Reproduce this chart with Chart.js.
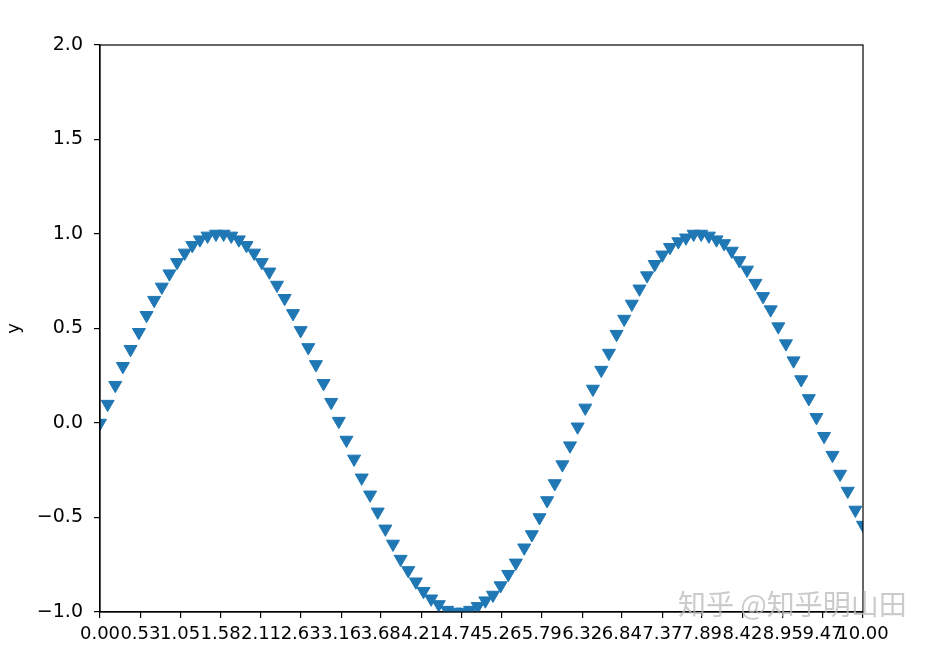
<!DOCTYPE html>
<html>
<head>
<meta charset="utf-8">
<title>sin</title>
<script src="https://cdn.jsdelivr.net/npm/chart.js"></script>
<style>
  html, body { margin: 0; padding: 0; background: #fff; }
  #wrap { width: 932px; height: 646px; }
</style>
</head>
<body>
<div id="wrap"><canvas id="c" width="932" height="646"></canvas></div>
<script>
// values
const xs = [0.00,0.10,0.20,0.30,0.40,0.51,0.61,0.71,0.81,0.91,1.01,1.11,1.21,1.31,1.41,1.52,1.62,1.72,1.82,1.92,
  2.02,2.12,2.22,2.32,2.42,2.53,2.63,2.73,2.83,2.93,3.03,3.13,3.23,3.33,3.43,3.54,3.64,3.74,3.84,3.94,
  4.04,4.14,4.24,4.34,4.44,4.55,4.65,4.75,4.85,4.95,5.05,5.15,5.25,5.35,5.45,5.56,5.66,5.76,5.86,5.96,
  6.06,6.16,6.26,6.36,6.46,6.57,6.67,6.77,6.87,6.97,7.07,7.17,7.27,7.37,7.47,7.58,7.68,7.78,7.88,7.98,
  8.08,8.18,8.28,8.38,8.48,8.59,8.69,8.79,8.89,8.99,9.09,9.19,9.29,9.39,9.49,9.60,9.70,9.80,9.90,10.00];
const ys = [0.00,0.10,0.20,0.30,0.39,0.48,0.57,0.65,0.72,0.79,0.85,0.90,0.94,0.97,0.99,1.00,1.00,0.99,0.97,0.94,
  0.90,0.85,0.80,0.73,0.66,0.58,0.49,0.40,0.31,0.21,0.11,0.01,-0.09,-0.19,-0.29,-0.38,-0.47,-0.56,-0.64,-0.72,
  -0.78,-0.84,-0.89,-0.93,-0.96,-0.99,-1.00,-1.00,-0.99,-0.97,-0.94,-0.91,-0.86,-0.80,-0.74,-0.66,-0.59,-0.50,-0.41,-0.32,
  -0.22,-0.12,-0.02,0.08,0.18,0.28,0.37,0.47,0.55,0.63,0.71,0.78,0.84,0.89,0.93,0.96,0.98,1.00,1.00,0.99,
  0.97,0.95,0.91,0.86,0.81,0.74,0.67,0.60,0.51,0.42,0.33,0.23,0.13,0.03,-0.07,-0.17,-0.27,-0.36,-0.46,-0.54];
const xTicks = [0.00,0.53,1.05,1.58,2.11,2.63,3.16,3.68,4.21,4.74,5.26,5.79,6.32,6.84,7.37,7.89,8.42,8.95,9.47,10.00];
const yTicks = [-1.0,-0.5,0.0,0.5,1.0,1.5,2.0];

const points = xs.map((x, i) => ({ x: x, y: ys[i] }));

// top/right spines + watermark
const frame = {
  id: 'frame',
  afterDraw(chart) {
    const { ctx, chartArea: a } = chart;
    ctx.save();
    ctx.strokeStyle = '#000';
    ctx.lineWidth = 1.2;
    ctx.strokeRect(a.left, a.top, a.right - a.left, a.bottom - a.top);
    ctx.fillStyle = 'rgba(185,185,185,0.75)';
    ctx.font = '28px "Noto Sans CJK SC"';
    ctx.textBaseline = 'middle';
    ctx.fillText('知乎 @知乎明山田', 678, 604);
    ctx.restore();
  }
};

Chart.defaults.font.family = '"DejaVu Sans", sans-serif';
Chart.defaults.font.size = 18;
Chart.defaults.color = '#000';

new Chart(document.getElementById('c'), {
  type: 'scatter',
  data: {
    datasets: [{
      data: points,
      pointStyle: 'triangle',
      rotation: 180,
      radius: 7.5,
      hoverRadius: 7.5,
      borderWidth: 1,
      backgroundColor: '#1f77b4',
      borderColor: '#1f77b4',
      clip: 0
    }]
  },
  options: {
    responsive: false,
    animation: false,
    layout: { padding: { left: 0, top: 45, right: 69, bottom: 0 } },
    plugins: { legend: { display: false }, tooltip: { enabled: false } },
    scales: {
      x: {
        type: 'linear',
        min: 0,
        max: 10,
        afterBuildTicks: (axis) => { axis.ticks = xTicks.map(v => ({ value: v })); },
        afterFit: (axis) => { axis.height = 34; },
        ticks: {
          autoSkip: false,
          maxRotation: 0,
          minRotation: 0,
          padding: 6,
          callback: (v) => Number(v).toFixed(2)
        },
        grid: { drawOnChartArea: false, drawTicks: true, tickLength: 6, color: '#000', lineWidth: 1.2 },
        border: { display: true, color: '#000', width: 1.2 }
      },
      y: {
        min: -1,
        max: 2,
        afterBuildTicks: (axis) => { axis.ticks = yTicks.map(v => ({ value: v })); },
        afterFit: (axis) => { axis.width = 100; },
        ticks: {
          padding: 11,
          font: { size: 19 },
          callback: (v) => (v < 0 ? '\u2212' + Math.abs(v).toFixed(1) : Number(v).toFixed(1))
        },
        title: { display: true, text: 'y', padding: { top: 4, bottom: 0 } },
        grid: { drawOnChartArea: false, drawTicks: true, tickLength: 6, color: '#000', lineWidth: 1.2 },
        border: { display: true, color: '#000', width: 1.2 }
      }
    }
  },
  plugins: [frame]
});
</script>
</body>
</html>
